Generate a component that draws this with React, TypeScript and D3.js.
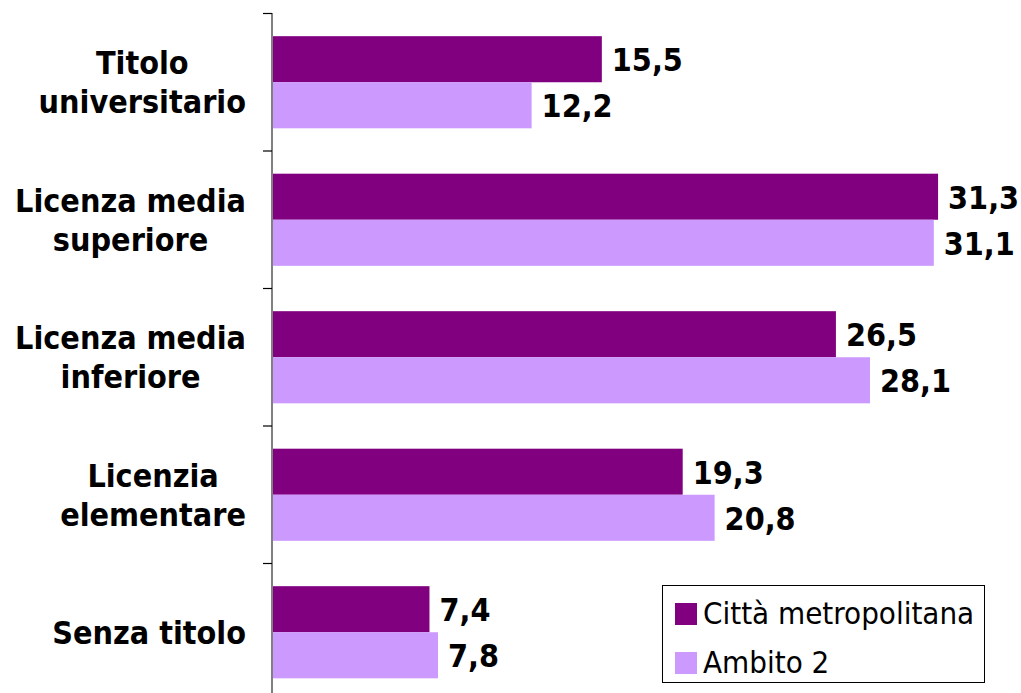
import React, { useEffect, useRef } from "react";
import * as d3 from "d3";

const categories = ["Titolo universitario", "Licenza media superiore", "Licenza media inferiore", "Licenzia elementare", "Senza titolo"];
const categoryLines = [["Titolo", "universitario"], ["Licenza media", "superiore"], ["Licenza media", "inferiore"], ["Licenzia", "elementare"], ["Senza titolo"]];
const cittaValues = [15.5, 31.3, 26.5, 19.3, 7.4];
const ambitoValues = [12.2, 31.1, 28.1, 20.8, 7.8];
const seriesNames = ["Città metropolitana", "Ambito 2"];
const colors = ["#800080", "#CC99FF"];

const W = 1021, H = 693;
const FONT = "'DejaVu Sans Condensed', 'DejaVu Sans', sans-serif";

export default function App() {
  const ref = useRef<SVGSVGElement>(null);
  useEffect(() => {
    const svg = d3.select(ref.current);
    svg.selectAll("*").remove();
    const x = d3.scaleLinear().domain([0, 35]).range([272, 272 + 35 * 21.28]);
    const y = d3.scaleBand().domain(categories).range([13.5, 701]).paddingInner(0.33).paddingOuter(0.165);
    const inner = d3.scaleBand().domain(seriesNames).range([0, y.bandwidth()]);
    const series = [cittaValues, ambitoValues];

    const g = svg.append("g");
    series.forEach((vals, si) => {
      g.selectAll(null).data(vals).enter().append("rect")
        .attr("x", x(0))
        .attr("y", (d, i) => (y(categories[i]) as number) + (inner(seriesNames[si]) as number))
        .attr("width", d => x(d) - x(0))
        .attr("height", inner.bandwidth())
        .attr("fill", colors[si]);
      g.selectAll(null).data(vals).enter().append("text")
        .attr("x", d => x(d) + 10)
        .attr("y", (d, i) => (y(categories[i]) as number) + (inner(seriesNames[si]) as number) + inner.bandwidth() / 2 + 12)
        .attr("font-family", FONT).attr("font-weight", "bold").attr("font-size", 32)
        .attr("fill", "#000")
        .text(d => d.toFixed(1).replace(".", ","));
    });

    // axis
    const step = y.step();
    const tickYs = d3.range(6).map(i => 13.5 + i * step);
    svg.append("line").attr("x1", 272).attr("x2", 272).attr("y1", 13).attr("y2", H)
      .attr("stroke", "#808080").attr("stroke-width", 2);
    svg.selectAll(null).data(tickYs).enter().append("line")
      .attr("x1", 263).attr("x2", 272).attr("y1", d => d).attr("y2", d => d)
      .attr("stroke", "#000").attr("stroke-width", 1.2);

    // category labels
    categoryLines.forEach((lines, i) => {
      const c = (y(categories[i]) as number) + y.bandwidth() / 2;
      const lh = 39;
      const gl = svg.append("g");
      const texts = lines.map((ln, k) => gl.append("text")
        .attr("y", c + 11.5 + (k - (lines.length - 1) / 2) * lh)
        .attr("font-family", FONT).attr("font-weight", "bold").attr("font-size", 32)
        .attr("text-anchor", "middle").attr("fill", "#000").text(ln));
      const maxW = d3.max(texts, t => (t.node() as SVGTextElement).getComputedTextLength()) || 0;
      texts.forEach(t => t.attr("x", 246 - maxW / 2));
    });

    // legend
    svg.append("rect").attr("x", 662.5).attr("y", 585.5).attr("width", 322).attr("height", 97)
      .attr("fill", "#fff").attr("stroke", "#000").attr("stroke-width", 1);
    seriesNames.forEach((n, i) => {
      const yy = 603 + i * 49;
      svg.append("rect").attr("x", 675).attr("y", yy).attr("width", 22).attr("height", 22).attr("fill", colors[i]);
      svg.append("text").attr("x", 703).attr("y", yy + 21)
        .attr("font-family", FONT).attr("font-size", 31).attr("fill", "#000").text(n);
    });
  }, []);
  return (
    <div style={{ position: "absolute", left: 0, top: 0 }}>
      <svg ref={ref} width={W} height={H} style={{ display: "block", background: "#fff" }} />
    </div>
  );
}
